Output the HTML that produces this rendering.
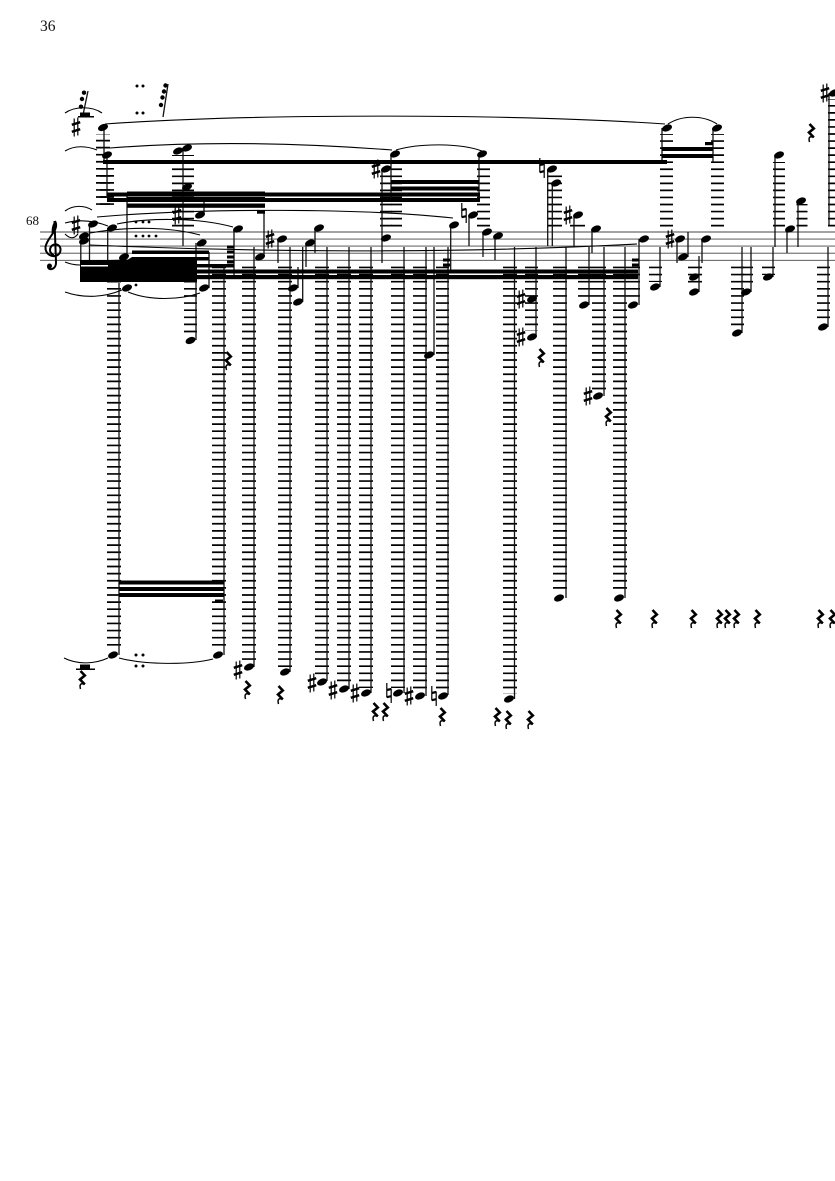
<!DOCTYPE html>
<html><head><meta charset="utf-8"><style>
html,body{margin:0;padding:0;background:#fff}
svg{display:block}
.st line{stroke:#444;stroke-width:.9}
.ld line{stroke:#000;fill:none}
.up line{stroke-dasharray:1.7 5.35}
.dn line{stroke-dasharray:1.7 5.42}
.sm line{stroke:#111;stroke-width:1.3}
.t path{fill:none;stroke:#000;stroke-width:1.1}
text{font-family:"Liberation Serif",serif;fill:#111}
</style></head><body>
<svg width="835" height="1181" viewBox="0 0 835 1181" xmlns="http://www.w3.org/2000/svg">
<defs>
<ellipse id="n" rx="5.2" ry="3.3" transform="rotate(-22)" fill="#000"/>
<g id="s" stroke="#000" fill="none"><path d="M-1.8-8.500V9.500M1.800-9.500V8.500" stroke-width="1.200"/><path d="M-4.200-2.200 4.200-4.800M-4.200 4.800 4.200 2.200" stroke-width="2.400"/></g>
<g id="h" stroke="#000" fill="none"><path d="M-2.200-10V4.500M2.200-4.500V10" stroke-width="1.200"/><path d="M-2.200-3 2.200-4M-2.200 4.200 2.200 3.200" stroke-width="2.200"/></g>
<g id="r" fill="none" stroke="#000"><path d="M-1.500-9 2.800-4.500-2-.5 2.800 4.400" stroke-width="2.600"/><path d="M2.800 4.400C-.5 3-3 3.500-1.500 9" stroke-width="1.500"/></g>
</defs>
<rect width="835" height="1181" fill="#fff"/>
<text x="40" y="31" font-size="15.500">36</text>
<text x="26" y="225" font-size="13">68</text>
<g class="st">
<line x1="40" x2="835" y1="232" y2="232"/><line x1="40" x2="835" y1="239.100" y2="239.100"/><line x1="40" x2="835" y1="246.100" y2="246.100"/><line x1="40" x2="835" y1="253.200" y2="253.200"/><line x1="40" x2="835" y1="260.300" y2="260.300"/>
</g>
<path d="M55 221C60 230 47 237 45.500 247C45 258 60 259 60.500 250C61 243 50.500 242 50 250C50 253 52.500 255 54 255M54.500 221L56 262C56.500 270 48 271 48 266.500" fill="none" stroke="#000" stroke-width="2"/><path d="M55 221C52 224 51 230 52 236L54 232Z" fill="#000"/><circle cx="49.500" cy="266" r="2.500" fill="#000"/>

<g class="ld up">
<line x1="103" x2="103" y1="204.900" y2="134" stroke-width="14"/>
<line x1="107" x2="107" y1="204.900" y2="161" stroke-width="14"/>
<line x1="183" x2="183" y1="226.500" y2="155" stroke-width="22"/>
<line x1="396.500" x2="396.500" y1="226.500" y2="161" stroke-width="11"/>
<line x1="386" x2="386" y1="226.500" y2="175" stroke-width="12"/>
<line x1="483.500" x2="483.500" y1="226.500" y2="161" stroke-width="13"/>
<line x1="554.500" x2="554.500" y1="226.500" y2="175" stroke-width="15"/>
<line x1="577.500" x2="577.500" y1="226.500" y2="224" stroke-width="15"/>
<line x1="666.500" x2="666.500" y1="226.500" y2="134" stroke-width="13"/>
<line x1="717.500" x2="717.500" y1="226.500" y2="134" stroke-width="13"/>
<line x1="779" x2="779" y1="226.500" y2="162" stroke-width="12"/>
<line x1="802" x2="802" y1="226.500" y2="204" stroke-width="11"/>
<line x1="832" x2="832" y1="226.500" y2="99" stroke-width="8"/>
</g>
<g class="ld dn">
<line x1="114" x2="114" y1="266.600" y2="650" stroke-width="14"/>
<line x1="219" x2="219" y1="266.600" y2="650" stroke-width="14"/>
<line x1="190.500" x2="190.500" y1="266.600" y2="335" stroke-width="13"/>
<line x1="249" x2="249" y1="266.600" y2="661" stroke-width="14"/>
<line x1="285" x2="285" y1="266.600" y2="667" stroke-width="14"/>
<line x1="322" x2="322" y1="266.600" y2="677" stroke-width="14"/>
<line x1="344" x2="344" y1="266.600" y2="684" stroke-width="14"/>
<line x1="366" x2="366" y1="266.600" y2="688" stroke-width="14"/>
<line x1="398" x2="398" y1="266.600" y2="688" stroke-width="14"/>
<line x1="420" x2="420" y1="266.600" y2="691" stroke-width="14"/>
<line x1="442.500" x2="442.500" y1="266.600" y2="690" stroke-width="13"/>
<line x1="510" x2="510" y1="266.600" y2="694" stroke-width="14"/>
<line x1="531.500" x2="531.500" y1="266.600" y2="331" stroke-width="13"/>
<line x1="560" x2="560" y1="266.600" y2="593" stroke-width="14"/>
<line x1="585" x2="585" y1="266.600" y2="300" stroke-width="14"/>
<line x1="599" x2="599" y1="266.600" y2="390" stroke-width="14"/>
<line x1="620" x2="620" y1="266.600" y2="593" stroke-width="14"/>
<line x1="633.500" x2="633.500" y1="266.600" y2="300" stroke-width="13"/>
<line x1="655.500" x2="655.500" y1="266.600" y2="282" stroke-width="13"/>
<line x1="695" x2="695" y1="266.600" y2="288" stroke-width="14"/>
<line x1="737.500" x2="737.500" y1="266.600" y2="328" stroke-width="13"/>
<line x1="747" x2="747" y1="266.600" y2="288" stroke-width="12"/>
<line x1="768.500" x2="768.500" y1="266.600" y2="275" stroke-width="13"/>
<line x1="823.500" x2="823.500" y1="266.600" y2="322" stroke-width="13"/>
</g>

<g class="sm">
<line x1="104" x2="104" y1="128" y2="163"/><line x1="107" x2="107" y1="155" y2="198"/>
<line x1="183" x2="183" y1="148" y2="246"/><line x1="204" x2="204" y1="197" y2="215"/>
<line x1="127" x2="127" y1="194" y2="257"/><line x1="264" x2="264" y1="212" y2="257"/>
<line x1="80.800" x2="80.800" y1="241" y2="262"/><line x1="89.500" x2="89.500" y1="224" y2="262"/><line x1="107.700" x2="107.700" y1="228" y2="262"/>
<line x1="196" x2="196" y1="243" y2="340"/><line x1="209" x2="209" y1="252" y2="288"/>
<line x1="119" x2="119" y1="283" y2="655"/><line x1="224" x2="224" y1="267" y2="655"/><line x1="234" x2="234" y1="229" y2="275"/>
<line x1="254" x2="254" y1="247" y2="667"/><line x1="278" x2="278" y1="239" y2="263"/><line x1="290" x2="290" y1="247" y2="672"/>
<line x1="298" x2="298" y1="267" y2="288"/><line x1="302.700" x2="302.700" y1="247" y2="302"/><line x1="306" x2="306" y1="243" y2="267"/><line x1="315" x2="315" y1="228" y2="253"/>
<line x1="327" x2="327" y1="247" y2="681"/><line x1="349" x2="349" y1="247" y2="689"/><line x1="371" x2="371" y1="247" y2="693"/>
<line x1="382" x2="382" y1="169" y2="263"/><line x1="391" x2="391" y1="154" y2="200"/><line x1="404" x2="404" y1="247" y2="693"/>
<line x1="426" x2="426" y1="247" y2="696"/><line x1="434" x2="434" y1="247" y2="355"/><line x1="448" x2="448" y1="247" y2="695"/><line x1="450.700" x2="450.700" y1="225" y2="270"/>
<line x1="469" x2="469" y1="215" y2="246"/><line x1="479" x2="479" y1="154" y2="200"/><line x1="483" x2="483" y1="232" y2="257"/><line x1="495" x2="495" y1="236" y2="260"/>
<line x1="514.500" x2="514.500" y1="247" y2="699"/><line x1="536" x2="536" y1="247" y2="337"/>
<line x1="547.700" x2="547.700" y1="169" y2="246"/><line x1="552.300" x2="552.300" y1="183" y2="246"/><line x1="566" x2="566" y1="247" y2="598"/>
<line x1="574" x2="574" y1="215" y2="247"/><line x1="589" x2="589" y1="247" y2="305"/><line x1="592" x2="592" y1="229" y2="253"/><line x1="604" x2="604" y1="247" y2="396"/><line x1="625" x2="625" y1="247" y2="598"/>
<line x1="639" x2="639" y1="239" y2="305"/><line x1="660" x2="660" y1="247" y2="287"/><line x1="662" x2="662" y1="128" y2="162"/><line x1="713" x2="713" y1="128" y2="162"/>
<line x1="677" x2="677" y1="239" y2="263"/><line x1="688" x2="688" y1="232" y2="257"/><line x1="699" x2="699" y1="256" y2="292"/><line x1="702" x2="702" y1="239" y2="263"/>
<line x1="742" x2="742" y1="247" y2="333"/><line x1="751" x2="751" y1="247" y2="292"/><line x1="773" x2="773" y1="247" y2="277"/><line x1="775" x2="775" y1="155" y2="247"/>
<line x1="787" x2="787" y1="229" y2="253"/><line x1="798" x2="798" y1="201" y2="247"/><line x1="828" x2="828" y1="247" y2="327"/><line x1="829" x2="829" y1="93" y2="225"/>
<line x1="83" x2="88" y1="115" y2="91"/><line x1="163" x2="168" y1="117" y2="84"/>
</g>

<g fill="#000">
<rect x="103" y="160" width="564" height="4"/>
<rect x="107" y="192.500" width="373" height="4"/><rect x="107" y="198" width="373" height="4"/>
<rect x="127" y="191.500" width="138" height="4.500"/><rect x="127" y="197" width="138" height="4"/><rect x="127" y="203.500" width="138" height="4.300"/>
<rect x="257" y="210.500" width="8" height="3.200"/>
<rect x="391" y="180" width="88" height="4"/><rect x="391" y="186.500" width="88" height="4"/>
<rect x="662" y="147" width="51" height="4"/><rect x="662" y="154" width="51" height="4"/><rect x="705" y="142" width="8" height="3.200"/>
<rect x="119" y="580.500" width="105" height="4"/><rect x="119" y="587" width="105" height="4"/><rect x="119" y="593" width="105" height="4"/><rect x="215" y="599.500" width="8" height="3.200"/>
<path d="M80 260H108L128 259.500 132 257H197V282H80Z"/>
<rect x="132" y="250.500" width="77" height="3.500"/><rect x="197" y="257" width="12" height="3"/><rect x="197" y="264" width="37" height="3.500"/>
<rect x="197" y="269.500" width="441" height="4"/><rect x="197" y="275" width="441" height="4.200"/>
<rect x="227" y="245.500" width="7" height="3"/><rect x="227" y="250.500" width="7" height="3"/><rect x="227" y="255.500" width="7" height="3"/><rect x="227" y="260.500" width="7" height="3"/>
<rect x="443" y="258.500" width="7" height="3"/><rect x="443" y="263.500" width="7" height="3"/>
<rect x="632" y="258.500" width="7" height="3"/><rect x="632" y="263.500" width="7" height="3"/>
<rect x="80" y="112.500" width="10" height="4.500"/><rect x="78" y="116" width="16" height="1.500"/>
<rect x="80" y="664.500" width="10" height="4.500"/><rect x="76" y="668.500" width="19" height="1.500"/>
</g>
<rect x="81" y="265" width="27" height="1.500" fill="#fff"/>

<g fill="#000">
<circle cx="137" cy="86" r="1.500"/><circle cx="143" cy="86" r="1.500"/><circle cx="137" cy="113" r="1.500"/><circle cx="143" cy="113" r="1.500"/>
<circle cx="136" cy="222" r="1.400"/><circle cx="143" cy="222" r="1.400"/><circle cx="149" cy="222" r="1.400"/>
<circle cx="136" cy="236" r="1.400"/><circle cx="143" cy="236" r="1.400"/><circle cx="149" cy="236" r="1.400"/><circle cx="156" cy="236" r="1.400"/>
<circle cx="136" cy="285" r="1.400"/>
<circle cx="136" cy="655" r="1.500"/><circle cx="143" cy="655" r="1.500"/><circle cx="136" cy="666" r="1.500"/><circle cx="143" cy="666" r="1.500"/>
<circle cx="84" cy="92.700" r="2.200"/><circle cx="82" cy="99" r="2.200"/><circle cx="81" cy="106.700" r="2.200"/>
<circle cx="165.500" cy="85.500" r="2.200"/><circle cx="164" cy="91.500" r="2.200"/><circle cx="162.500" cy="97.500" r="2.200"/><circle cx="161" cy="105" r="2.200"/>
</g>

<g class="t">
<path d="M105 124C260 113 520 114 665 124"/><path d="M668 124C682 115 703 115 717 124"/>
<path d="M110 148C200 141 300 143 392 150"/><path d="M396 150C420 143 460 143 482 151"/>
<path d="M65 113C75 106 92 106 102 113"/><path d="M65 151C75 145 87 146 97 150"/><path d="M65 211C73 205 84 205 92 210"/>
<path d="M97 217C200 208 360 208 453 218"/><path d="M117 224C150 217 200 218 233 227"/><path d="M90 233C130 226 170 227 200 235"/>
<path d="M90 245C250 252 450 254 637 244"/>
<path d="M65 223C80 219 95 221 108 226"/><path d="M65 234C70 239 74 239 78 234"/><path d="M65 262C70 264 75 265 80 265"/>
<path d="M65 292C85 299 105 297 122 290"/><path d="M128 292C150 301 180 300 200 293"/>
<path d="M64 658C78 665 95 664 108 658"/><path d="M119 658C145 665 190 665 213 659"/>
</g>

<use href="#n" x="103" y="127.500"/><use href="#n" x="107" y="155"/><use href="#n" x="187" y="148"/><use href="#n" x="178" y="151"/><use href="#n" x="187" y="187"/><use href="#n" x="200" y="215"/>
<use href="#n" x="84" y="241"/><use href="#n" x="84" y="236"/><use href="#n" x="93" y="224"/><use href="#n" x="112" y="228"/><use href="#n" x="124" y="257"/><use href="#n" x="127" y="288"/><use href="#n" x="204" y="288"/><use href="#n" x="190.500" y="340.500"/><use href="#n" x="201.700" y="243"/><use href="#n" x="238" y="229"/><use href="#n" x="260" y="257"/><use href="#n" x="282" y="239"/><use href="#n" x="293" y="288"/><use href="#n" x="298" y="302"/><use href="#n" x="310" y="243"/><use href="#n" x="319" y="228"/>
<use href="#n" x="113" y="655"/><use href="#n" x="218" y="655"/><use href="#n" x="249" y="667"/><use href="#n" x="285" y="672"/><use href="#n" x="322" y="682"/><use href="#n" x="344" y="689"/><use href="#n" x="366" y="693"/><use href="#n" x="398" y="693"/><use href="#n" x="420" y="696"/><use href="#n" x="443" y="696"/><use href="#n" x="509" y="699"/><use href="#n" x="559" y="598"/><use href="#n" x="619" y="598"/>
<use href="#n" x="395" y="154"/><use href="#n" x="386" y="169"/><use href="#n" x="386" y="238"/><use href="#n" x="429" y="355"/><use href="#n" x="454" y="225"/><use href="#n" x="473" y="215"/><use href="#n" x="482" y="154"/><use href="#n" x="487" y="232"/><use href="#n" x="498" y="236"/><use href="#n" x="532" y="299"/><use href="#n" x="532" y="337"/><use href="#n" x="552" y="169"/><use href="#n" x="556" y="183"/><use href="#n" x="578" y="215"/><use href="#n" x="596" y="229"/><use href="#n" x="584" y="305"/><use href="#n" x="598" y="396"/><use href="#n" x="633" y="305"/><use href="#n" x="644" y="239"/><use href="#n" x="655" y="287"/>
<use href="#n" x="667" y="128"/><use href="#n" x="717" y="128"/><use href="#n" x="680" y="239"/><use href="#n" x="683" y="257"/><use href="#n" x="706" y="239"/><use href="#n" x="694" y="277"/><use href="#n" x="694" y="292"/><use href="#n" x="737" y="333"/><use href="#n" x="746" y="292"/><use href="#n" x="768" y="277"/><use href="#n" x="779" y="155"/><use href="#n" x="790" y="229"/><use href="#n" x="801" y="201"/><use href="#n" x="823" y="327"/><use href="#n" x="834" y="93"/>

<use href="#s" x="76" y="127"/><use href="#s" x="76" y="225"/><use href="#s" x="177" y="215"/><use href="#s" x="270" y="239"/><use href="#s" x="376" y="169"/><use href="#s" x="238" y="670"/><use href="#s" x="312" y="683"/><use href="#s" x="333" y="690"/><use href="#s" x="355" y="693"/><use href="#s" x="409" y="696"/><use href="#s" x="521" y="299"/><use href="#s" x="521" y="337"/><use href="#s" x="568" y="215"/><use href="#s" x="588" y="396"/><use href="#s" x="670" y="239"/><use href="#s" x="825" y="93"/>
<use href="#h" x="464" y="213"/><use href="#h" x="542" y="168"/><use href="#h" x="389" y="693"/><use href="#h" x="434" y="696"/>

<use href="#r" x="228" y="361"/><use href="#r" x="541" y="358"/><use href="#r" x="608" y="417"/><use href="#r" x="811" y="133"/><use href="#r" x="82" y="680"/><use href="#r" x="247" y="690"/><use href="#r" x="280" y="695"/><use href="#r" x="375" y="712"/><use href="#r" x="385" y="712"/><use href="#r" x="442" y="717"/><use href="#r" x="497" y="717"/><use href="#r" x="508" y="720"/><use href="#r" x="530" y="720"/>
<use href="#r" x="618" y="619"/><use href="#r" x="654" y="619"/><use href="#r" x="693" y="619"/><use href="#r" x="719" y="619"/><use href="#r" x="727" y="619"/><use href="#r" x="736" y="619"/><use href="#r" x="757" y="619"/><use href="#r" x="820" y="619"/><use href="#r" x="832" y="619"/>
</svg>
</body></html>
